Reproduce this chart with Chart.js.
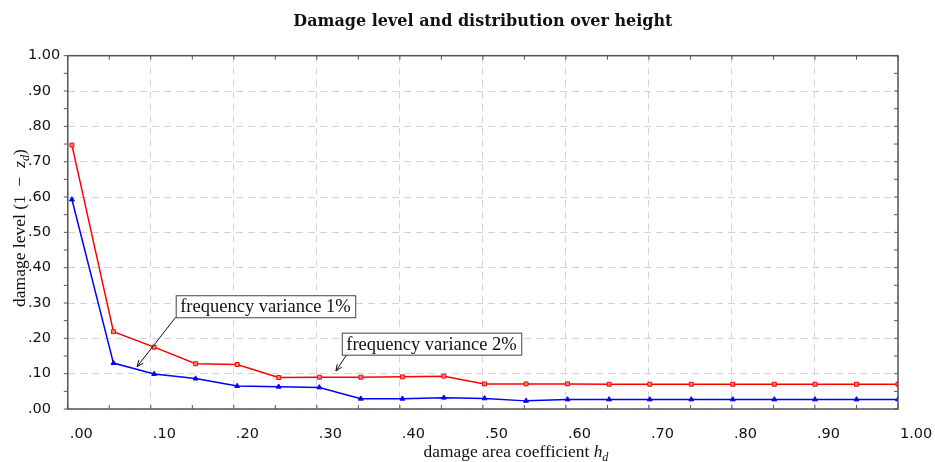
<!DOCTYPE html>
<html>
<head>
<meta charset="utf-8">
<script src="https://cdn.jsdelivr.net/npm/chart.js@4.4.1/dist/chart.umd.min.js"></script>
<style>
  html, body { margin: 0; padding: 0; background: #fff; }
  #wrap { width: 935px; height: 462px; }
</style>
</head>
<body>
<div id="wrap"><canvas id="chart"></canvas></div>
<script>
// damage area coefficient h_d of each sample
const hdValues = [0.005, 0.055, 0.104, 0.154, 0.204, 0.254, 0.303, 0.353, 0.403, 0.453, 0.502,
  0.552, 0.602, 0.652, 0.701, 0.751, 0.801, 0.851, 0.900, 0.950, 1.000];

// damage level (1 - z_d), frequency variance 1% (blue) and 2% (red)
const variance1 = [0.593, 0.130, 0.099, 0.086, 0.065, 0.063, 0.061, 0.029, 0.029, 0.032, 0.030,
  0.023, 0.027, 0.027, 0.027, 0.027, 0.027, 0.027, 0.027, 0.027, 0.027];
const variance2 = [0.747, 0.219, 0.175, 0.128, 0.126, 0.089, 0.090, 0.090, 0.091, 0.093, 0.071,
  0.071, 0.071, 0.070, 0.070, 0.070, 0.070, 0.070, 0.070, 0.070, 0.070];

// labels of the major ticks (every 0.10), minor ticks every 0.05 stay blank
const tickLabels = [".00", ".10", ".20", ".30", ".40", ".50", ".60", ".70", ".80", ".90", "1.00"];

// callouts: text, top-left of box and arrow tip, both in data units
const noteTexts = ["frequency variance 1%", "frequency variance 2%"];
const noteBoxes = [[0.130, 0.322], [0.330, 0.216]];
const noteTips = [[0.0835, 0.120], [0.323, 0.1075]];

const SERIF = '"Liberation Serif", serif';

/**
 * Build x/y points from the shared h_d array.
 *
 * @param {Array<Number>} values Damage levels.
 * @returns {Array<Object>} Points.
 */
const toPoints = (values) => values.map((v, i) => ({ x: hdValues[i], y: v }));

const tickLabel = (value, index) => (index % 2 === 0 ? tickLabels[index / 2] : "");
const gridColor = (ctx) => (ctx.index % 2 === 0 ? "#d4d4d4" : "rgba(0,0,0,0)");

const fontFor = (style, size) => {
  if (style === "i") return `italic ${size}px ${SERIF}`;
  if (style === "sub") return `italic ${size * 0.7}px ${SERIF}`;
  return `${size}px ${SERIF}`;
};

// draw a row of text parts (plain, italic, subscript) centred on cx
const drawRich = (ctx, parts, cx, baseline, size) => {
  const widths = parts.map(([t, s]) => {
    ctx.font = fontFor(s, size);
    return ctx.measureText(t).width;
  });
  let x = cx - widths.reduce((a, b) => a + b, 0) / 2;
  parts.forEach(([t, s], i) => {
    ctx.font = fontFor(s, size);
    ctx.fillText(t, x, s === "sub" ? baseline + size * 0.22 : baseline);
    x += widths[i];
  });
};

const decorations = {
  id: "decorations",
  afterDraw(chart) {
    const { ctx, chartArea: a, scales: { x, y } } = chart;
    ctx.save();

    // frame round the plot
    ctx.strokeStyle = "#555";
    ctx.lineWidth = 1.5;
    ctx.strokeRect(a.left, a.top, a.right - a.left, a.bottom - a.top);

    // small tick marks every 0.05 on all sides
    ctx.lineWidth = 1;
    ctx.beginPath();
    x.ticks.forEach((t) => {
      const px = x.getPixelForValue(t.value);
      ctx.moveTo(px, a.bottom); ctx.lineTo(px, a.bottom - 4);
      ctx.moveTo(px, a.top); ctx.lineTo(px, a.top + 4);
    });
    y.ticks.forEach((t) => {
      const py = y.getPixelForValue(t.value);
      ctx.moveTo(a.left - 4, py); ctx.lineTo(a.left, py);
      ctx.moveTo(a.right, py); ctx.lineTo(a.right - 4, py);
    });
    ctx.stroke();

    // axis titles
    ctx.fillStyle = "#111";
    ctx.textAlign = "left";
    ctx.textBaseline = "alphabetic";
    drawRich(ctx, [["damage area coefficient ", ""], ["h", "i"], ["d", "sub"]], 516, 457, 17.4);
    ctx.save();
    ctx.translate(25, 228);
    ctx.rotate(-Math.PI / 2);
    drawRich(ctx, [["damage level (1\u2002\u2212\u2002", ""], ["z", "i"], ["d", "sub"], [")", ""]], 0, 0, 17.5);
    ctx.restore();

    // callouts with arrows
    noteTexts.forEach((text, i) => {
      ctx.font = `18.5px ${SERIF}`;
      const w = ctx.measureText(text).width + 9;
      const h = 22;
      const bx = x.getPixelForValue(noteBoxes[i][0]);
      const by = y.getPixelForValue(noteBoxes[i][1]);
      const tx = x.getPixelForValue(noteTips[i][0]);
      const ty = y.getPixelForValue(noteTips[i][1]);
      const sx = bx + (i === 0 ? 0 : 5);
      const sy = by + h;

      ctx.strokeStyle = "#111";
      ctx.lineWidth = 1;
      ctx.beginPath();
      ctx.moveTo(sx, sy);
      ctx.lineTo(tx, ty);
      const ang = Math.atan2(ty - sy, tx - sx);
      [-0.4, 0.4].forEach((d) => {
        ctx.moveTo(tx, ty);
        ctx.lineTo(tx - 7 * Math.cos(ang + d), ty - 7 * Math.sin(ang + d));
      });
      ctx.stroke();

      ctx.fillStyle = "#fff";
      ctx.fillRect(bx, by, w, h);
      ctx.strokeStyle = "#444";
      ctx.strokeRect(bx + 0.5, by + 0.5, w, h);
      ctx.fillStyle = "#111";
      ctx.textAlign = "left";
      ctx.textBaseline = "middle";
      ctx.fillText(text, bx + 4.5, by + h / 2 + 1);
    });

    ctx.restore();
  },
};

const axisTicks = {
  stepSize: 0.05,
  autoSkip: false,
  maxRotation: 0,
  color: "#111",
  font: { family: '"DejaVu Sans", sans-serif', size: 14.5 },
  callback: tickLabel,
};

new Chart(document.getElementById("chart"), {
  type: "line",
  data: {
    datasets: [
      {
        label: "frequency variance 2%",
        data: toPoints(variance2),
        borderColor: "#ff0000",
        borderWidth: 1.5,
        pointStyle: "rect",
        pointRadius: 2.8,
        pointBorderWidth: 1,
        pointBackgroundColor: "#ff8080",
        pointBorderColor: "#ff0000",
      },
      {
        label: "frequency variance 1%",
        data: toPoints(variance1),
        borderColor: "#0000ff",
        borderWidth: 1.5,
        pointStyle: "triangle",
        pointRadius: 2.8,
        pointBorderWidth: 1,
        pointBackgroundColor: "#0000ff",
        pointBorderColor: "#0000ff",
      },
    ],
  },
  options: {
    responsive: true,
    maintainAspectRatio: false,
    animation: false,
    layout: { padding: { left: 28, right: 37, top: 0, bottom: 1.6 } },
    plugins: {
      legend: { display: false },
      tooltip: { enabled: false },
      title: {
        display: true,
        fullSize: false,
        text: "Damage level and distribution over height",
        color: "#111",
        font: { family: '"DejaVu Serif", serif', size: 16, weight: "bold" },
        padding: { top: 12.5, bottom: 24 },
      },
    },
    scales: {
      x: {
        type: "linear",
        min: 0,
        max: 1,
        ticks: { ...axisTicks, align: "start", labelOffset: 2, padding: 17 },
        grid: { color: gridColor, drawTicks: false, lineWidth: 1 },
        border: { display: false, dash: [7, 5] },
        afterFit: (scale) => {
          scale.paddingLeft = 0;
          scale.paddingRight = 0;
        },
      },
      y: {
        min: 0,
        max: 1,
        ticks: { ...axisTicks, crossAlign: "far", padding: 3.75 },
        grid: { color: gridColor, drawTicks: false, lineWidth: 1 },
        border: { display: false, dash: [7, 5] },
      },
    },
  },
  plugins: [decorations],
});
</script>
</body>
</html>
